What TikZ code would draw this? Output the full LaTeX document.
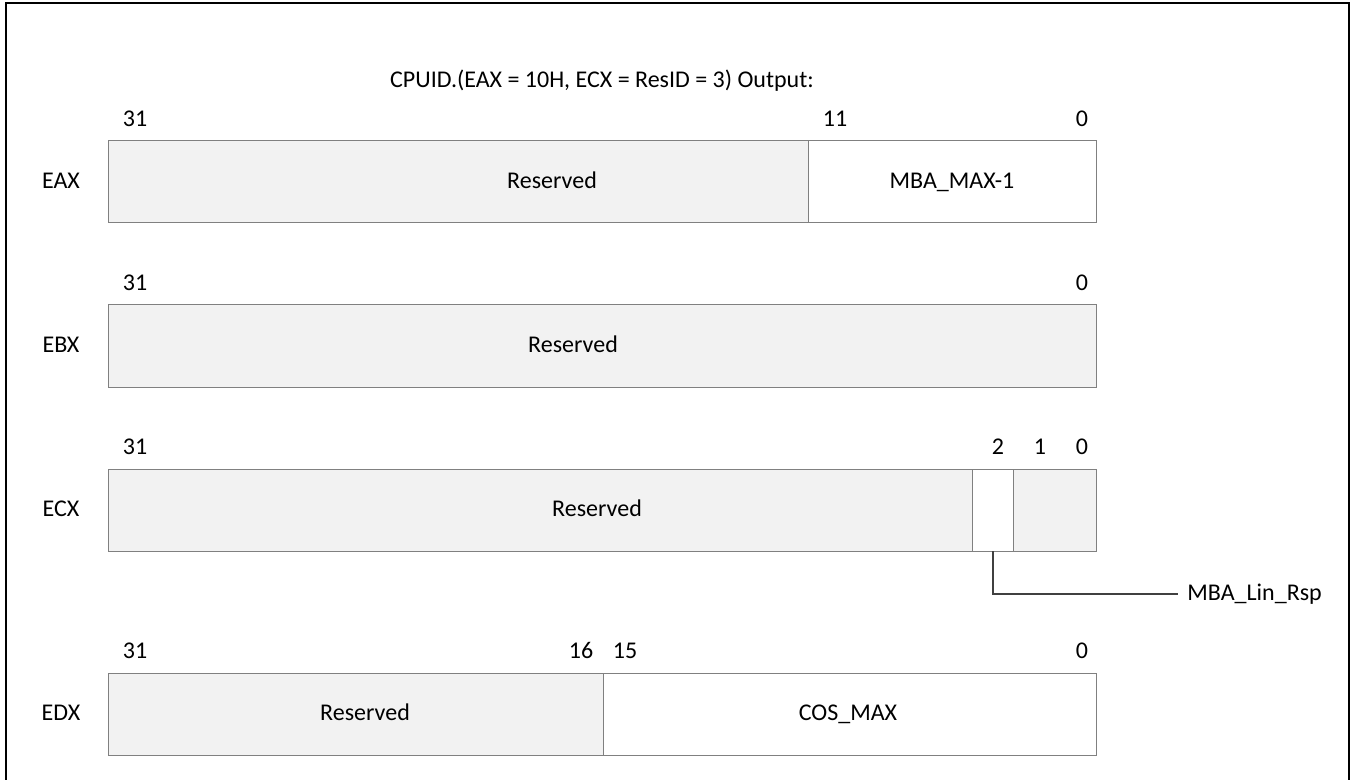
\documentclass[tikz,border=0pt]{standalone}
\usepackage{fontspec}
\setmainfont{Carlito}
\usetikzlibrary{positioning}
\definecolor{resv}{RGB}{242,242,242}
\definecolor{edge}{RGB}{128,128,128}
\definecolor{lead}{RGB}{64,64,64}

\begin{document}
\begin{tikzpicture}[
    x=0.5pt, y=-0.5pt,
    field/.style={draw=edge, line width=0.5pt, minimum height=41pt, inner sep=0pt, outer sep=0pt, anchor=north west},
    txt/.style={inner sep=0pt, font=\fontsize{12}{14}\selectfont, text height=0.644em, text depth=0pt},
    node distance=0pt
]
    \useasboundingbox (0,0) rectangle (1352,780);
    % Frame
    \draw[line width=1pt] (6,780) -- (6,3) -- (1349,3) -- (1349,780);

    % Title
    \node[txt] (title) at (602,81) {CPUID.(EAX = 10H, ECX = ResID = 3) Output:};

    % EAX
    \node[txt] (eax) at (61,182) {EAX};
    \node[field, fill=resv, minimum width=350pt] (eaxres) at (108,141) {};
    \node[field, fill=white, minimum width=144pt, right=of eaxres] (eaxmax) {};
    \node[txt] (eaxrestxt) at (552,182) {Reserved};
    \node[txt] (eaxmaxtxt) at (eaxmax) {MBA\_MAX-1};
    \node[txt] (eax31) at (135,120) {31};
    \node[txt] (eax11) at (835,120) {11};
    \node[txt] (eax0) at (1082,120) {0};

    % EBX
    \node[txt] (ebx) at (61,346) {EBX};
    \node[field, fill=resv, minimum width=494pt] (ebxres) at (108,305) {};
    \node[txt] (ebxrestxt) at (573,346) {Reserved};
    \node[txt] (ebx31) at (135,284) {31};
    \node[txt] (ebx0) at (1082,284) {0};

    % ECX
    \node[txt] (ecx) at (61,510) {ECX};
    \node[field, fill=resv, minimum width=432pt] (ecxres) at (108,469) {};
    \node[field, fill=white, minimum width=20.5pt, right=of ecxres] (ecxlin) {};
    \node[field, fill=resv, minimum width=41.5pt, right=of ecxlin] (ecxlow) {};
    \node[txt] (ecxrestxt) at (597,510) {Reserved};
    \node[txt] (ecx31) at (135,448) {31};
    \node[txt] (ecx2) at (998,448) {2};
    \node[txt] (ecx1) at (1040,448) {1};
    \node[txt] (ecx0) at (1082,448) {0};
    \node[txt, anchor=west] (linrsp) at (1187,594) {MBA\_Lin\_Rsp};

    % EDX
    \node[txt] (edx) at (61,714) {EDX};
    \node[field, fill=resv, minimum width=247.5pt] (edxres) at (108,673) {};
    \node[field, fill=white, minimum width=246.5pt, right=of edxres] (edxcos) {};
    \node[txt] (edxrestxt) at (365,714) {Reserved};
    \node[txt] (edxcostxt) at (848,714) {COS\_MAX};
    \node[txt] (edx31) at (135,652) {31};
    \node[txt] (edx16) at (581,652) {16};
    \node[txt] (edx15) at (625,652) {15};
    \node[txt] (edx0) at (1082,652) {0};

    % Leader
    \draw[lead, line width=1pt] (ecxlin.south) |- ([xshift=-4.5pt]linrsp.west);
\end{tikzpicture}
\end{document}
